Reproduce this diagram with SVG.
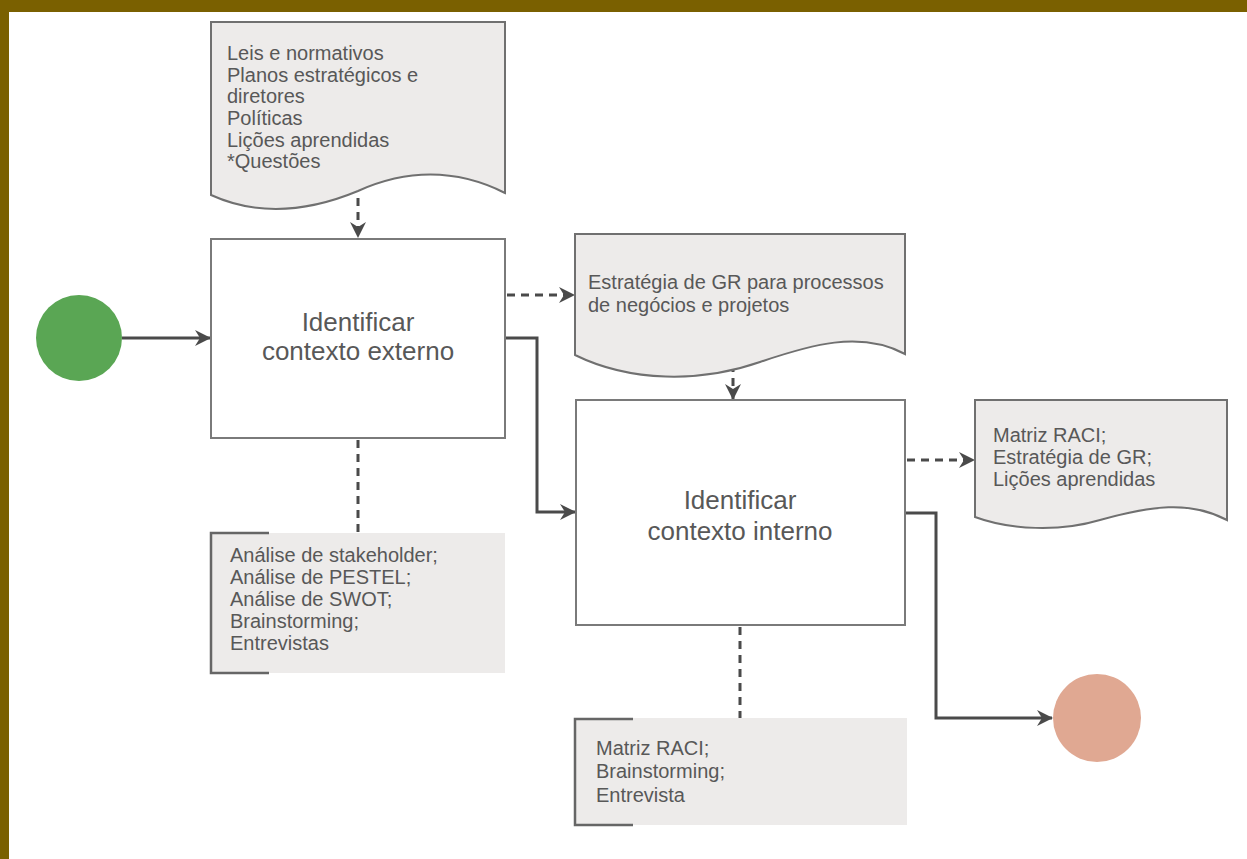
<svg xmlns="http://www.w3.org/2000/svg" width="1247" height="859" viewBox="0 0 1247 859">
<defs>
<style>
.doc{fill:#edebea;stroke:#707070;stroke-width:2}
.box{fill:#ffffff;stroke:#7a7a7a;stroke-width:2}
.ann{fill:#edebea;stroke:none}
.brk{fill:none;stroke:#666;stroke-width:2.5}
.t{font-family:"Liberation Sans",Arial,sans-serif;font-size:20px;fill:#585858}
.tb{font-family:"Liberation Sans",Arial,sans-serif;font-size:26px;fill:#585858;text-anchor:middle}
.solid{fill:none;stroke:#4a4a4a;stroke-width:3}
.dash{fill:none;stroke:#4a4a4a;stroke-width:3;stroke-dasharray:8 6}
</style>
<marker id="ah" markerUnits="userSpaceOnUse" markerWidth="16" markerHeight="16" refX="15" refY="8" orient="auto">
<path d="M0,0 L16,8 L0,16 L5,8 Z" fill="#4a4a4a"/>
</marker>
</defs>
<rect x="0" y="0" width="1247" height="859" fill="#ffffff"/>
<rect x="0" y="0" width="1247" height="12" fill="#7a6000"/>
<rect x="0" y="0" width="9" height="859" fill="#7a6000"/>

<g id="connectors">
<path class="solid" d="M122,338 H210" marker-end="url(#ah)"/>
<path class="solid" d="M505,338 H537 V512 H575" marker-end="url(#ah)"/>
<path class="solid" d="M905,513 H936 V718 H1052" marker-end="url(#ah)"/>
<path class="dash" d="M358,198 V237" marker-end="url(#ah)"/>
<path class="dash" d="M507,295 H574" marker-end="url(#ah)"/>
<path class="dash" d="M733,364 V399" marker-end="url(#ah)"/>
<path class="dash" d="M907,460 H974" marker-end="url(#ah)"/>
<path class="dash" d="M358,440 V533"/>
<path class="dash" d="M740,627 V718"/>
</g>

<g id="start">
<circle cx="79" cy="338" r="43" fill="#5aa654"/>
</g>
<g id="end">
<circle cx="1097" cy="718" r="44" fill="#e0a892"/>
</g>

<g id="doc-inputs">
<path class="doc" d="M211,22 H505 V193 C455,168 405,170 358,191 C305,213 255,215 211,195 Z"/>
<text class="t" x="227" y="60">Leis e normativos</text>
<text class="t" x="227" y="82">Planos estratégicos e</text>
<text class="t" x="227" y="103">diretores</text>
<text class="t" x="227" y="125">Políticas</text>
<text class="t" x="227" y="147">Lições aprendidas</text>
<text class="t" x="227" y="168">*Questões</text>
</g>

<g id="box-externo">
<rect class="box" x="211" y="239" width="294" height="199"/>
<text class="tb" x="358" y="331">Identificar</text>
<text class="tb" x="358" y="360">contexto externo</text>
</g>

<g id="doc-estrategia">
<path class="doc" d="M575,234 H905 V354 C860,330 810,345 760,362 C700,383 630,382 575,355 Z"/>
<text class="t" x="588" y="289">Estratégia de GR para processos</text>
<text class="t" x="588" y="312">de negócios e projetos</text>
</g>

<g id="box-interno">
<rect class="box" x="576" y="400" width="329" height="225"/>
<text class="tb" x="740" y="509">Identificar</text>
<text class="tb" x="740" y="540">contexto interno</text>
</g>

<g id="doc-saidas">
<path class="doc" d="M975,400 H1227 V520 C1190,500 1150,506 1100,520 C1060,532 1010,530 975,517 Z"/>
<text class="t" x="993" y="442">Matriz RACI;</text>
<text class="t" x="993" y="464">Estratégia de GR;</text>
<text class="t" x="993" y="486">Lições aprendidas</text>
</g>

<g id="ann-externo">
<rect class="ann" x="211" y="533" width="294" height="140"/>
<path class="brk" d="M269,533 H211 V673 H269"/>
<text class="t" x="230" y="562">Análise de stakeholder;</text>
<text class="t" x="230" y="584">Análise de PESTEL;</text>
<text class="t" x="230" y="606">Análise de SWOT;</text>
<text class="t" x="230" y="628">Brainstorming;</text>
<text class="t" x="230" y="650">Entrevistas</text>
</g>

<g id="ann-interno">
<rect class="ann" x="575" y="718" width="332" height="107"/>
<path class="brk" d="M633,719 H575 V825 H633"/>
<text class="t" x="596" y="755">Matriz RACI;</text>
<text class="t" x="596" y="778">Brainstorming;</text>
<text class="t" x="596" y="802">Entrevista</text>
</g>
</svg>
